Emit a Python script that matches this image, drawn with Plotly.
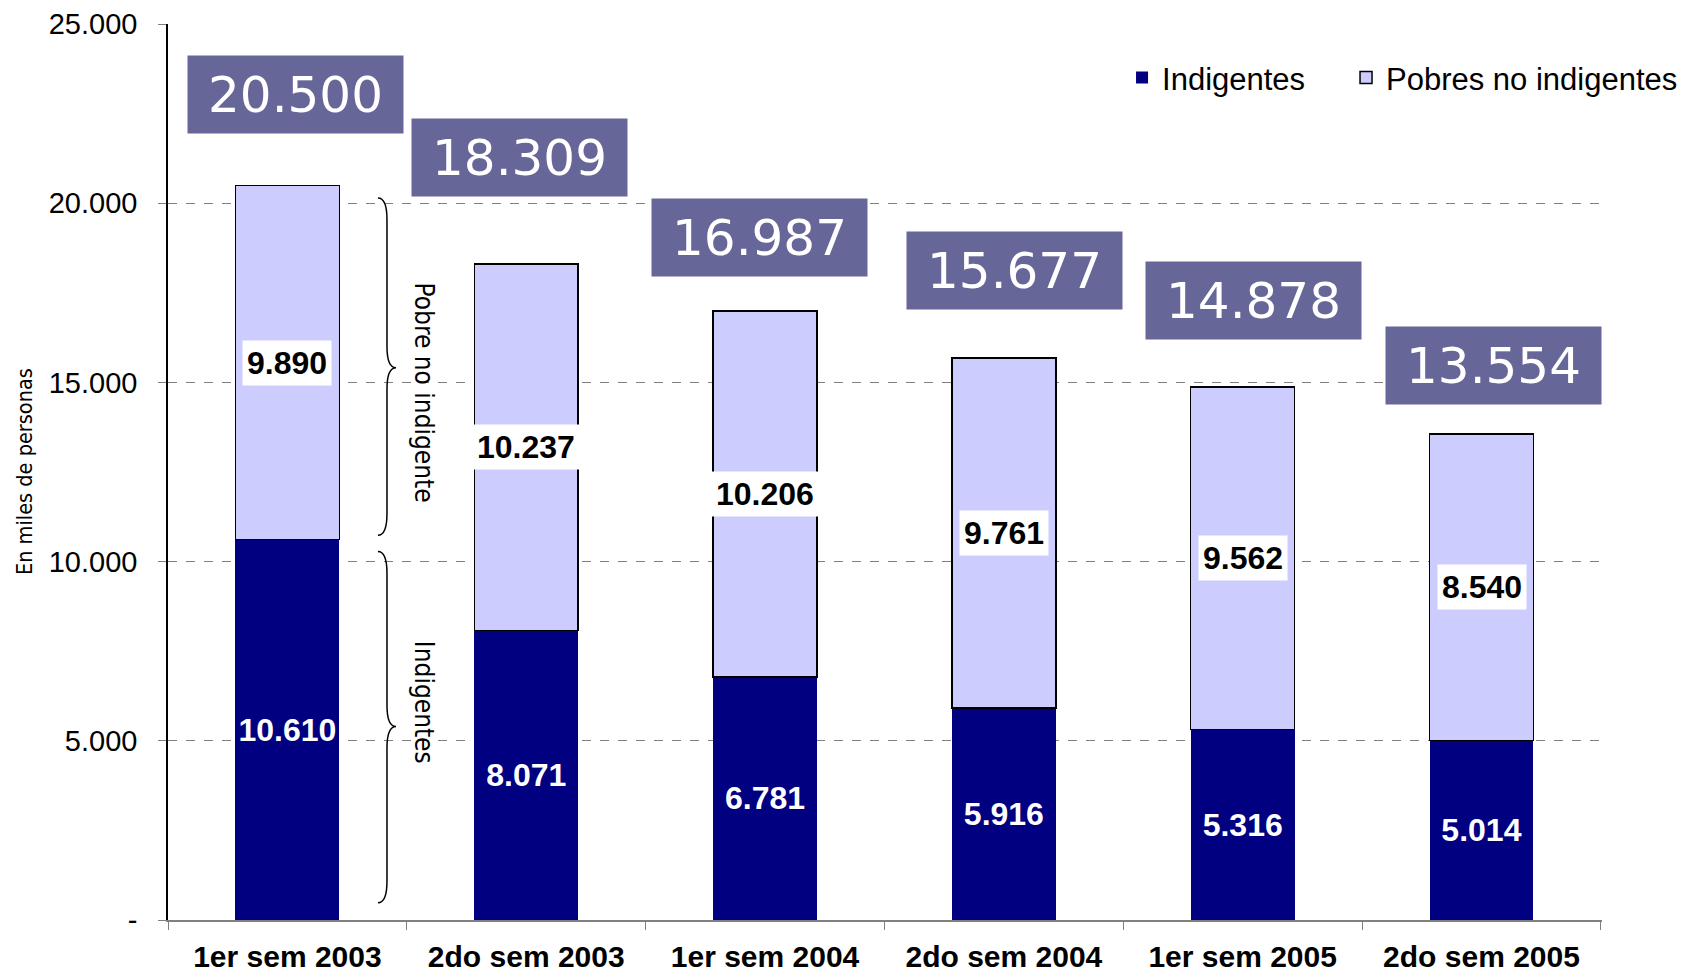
import plotly.graph_objects as go

categories = ["1er sem 2003", "2do sem 2003", "1er sem 2004",
              "2do sem 2004", "1er sem 2005", "2do sem 2005"]
indigentes = [10610, 8071, 6781, 5916, 5316, 5014]
pobres_no_indigentes = [9890, 10237, 10206, 9761, 9562, 8540]
totales = [20500, 18309, 16987, 15677, 14878, 13554]
y_tickvals = [0, 5000, 10000, 15000, 20000, 25000]
y_ticktext = ["-", "5.000", "10.000", "15.000", "20.000", "25.000"]

# label box offsets in pixels (style only)
box_xshift = [8, -7, -6, 11, 11, 12]
box_yshift = [91, 106, 74, 88, 86, 69]


def fmt(v):
    return f"{v:,}".replace(",", ".")


DARK = "#000080"
LIGHT = "#CCCCFF"
BOX = "#666699"
NARROW = "Liberation Sans Narrow, Arial Narrow, DejaVu Sans Condensed, Liberation Sans, Arial, sans-serif"
ARIAL = "Liberation Sans, Arial, sans-serif"

fig = go.Figure()
fig.add_trace(go.Bar(
    x=categories, y=indigentes, name="Indigentes", legend="legend",
    marker=dict(color=DARK, line=dict(color=DARK, width=0)),
    text=[fmt(v) for v in indigentes], textposition="inside",
    insidetextanchor="middle", constraintext="none",
    textfont=dict(color="white", size=32, family=ARIAL, weight="bold"),
))
fig.add_trace(go.Bar(
    x=categories, y=pobres_no_indigentes, name="Pobres no indigentes", legend="legend2",
    marker=dict(color=LIGHT, line=dict(color="black", width=1.5)),
    textposition="none",
))

annotations = []
for i, c in enumerate(categories):
    mid = indigentes[i] + pobres_no_indigentes[i] / 2
    annotations.append(dict(
        x=c, y=mid, xref="x", yref="y", text=fmt(pobres_no_indigentes[i]),
        showarrow=False, bgcolor="white", borderpad=4,
        font=dict(color="black", size=32, family=ARIAL, weight="bold"),
    ))
    annotations.append(dict(
        x=c, y=totales[i], xref="x", yref="y", text=fmt(totales[i]),
        showarrow=False, bgcolor=BOX, width=215, height=77, borderpad=0,
        xshift=box_xshift[i], yshift=box_yshift[i], xanchor="center", yanchor="middle",
        font=dict(color="white", size=50, family="DejaVu Sans, Verdana, sans-serif"),
    ))

annotations.append(dict(
    x=0.1785, y=14717, xref="paper", yref="y", text="Pobre no indigente",
    textangle=90, showarrow=False, xanchor="center", yanchor="middle",
    font=dict(size=26, family=NARROW, color="black"),
))
annotations.append(dict(
    x=0.1785, y=6061, xref="paper", yref="y", text="Indigentes",
    textangle=90, showarrow=False, xanchor="center", yanchor="middle",
    font=dict(size=26, family=NARROW, color="black"),
))
annotations.append(dict(
    x=-0.1004, y=0.5, xref="paper", yref="paper", text="En miles de personas",
    textangle=-90, showarrow=False, xanchor="center", yanchor="middle",
    font=dict(size=21.5, family=NARROW, color="black"),
))


def brace(x0, x1, x2, ytop, ymid, ybot, d):
    return (f"M {x0},{ytop} Q {x1},{ytop} {x1},{ytop - d} "
            f"L {x1},{ymid + d} Q {x1},{ymid} {x2},{ymid} "
            f"Q {x1},{ymid} {x1},{ymid - d} "
            f"L {x1},{ybot + d} Q {x1},{ybot} {x0},{ybot}")


shapes = [
    dict(type="path", xref="paper", yref="y",
         path=brace(0.1464, 0.1527, 0.159, 20145, 15410, 10736, 600),
         line=dict(color="black", width=1.5)),
    dict(type="path", xref="paper", yref="y",
         path=brace(0.1464, 0.1527, 0.159, 10284, 5398, 483, 600),
         line=dict(color="black", width=1.5)),
]

legend_common = dict(orientation="h", xanchor="left", yanchor="middle",
                     font=dict(size=31, family=ARIAL, color="black"),
                     bgcolor="rgba(0,0,0,0)")

fig.update_layout(
    width=1695, height=976,
    margin=dict(l=168, r=93, t=24, b=56, autoexpand=False),
    paper_bgcolor="white", plot_bgcolor="white",
    barmode="stack", bargap=0.565,
    font=dict(family=ARIAL, color="black"),
    showlegend=True,
    legend=dict(x=0.6653, y=0.94, **legend_common),
    legend2=dict(x=0.8215, y=0.94, **legend_common),
    annotations=annotations,
    shapes=shapes,
)
fig.update_yaxes(
    range=[0, 25000], tickvals=y_tickvals, ticktext=y_ticktext,
    showgrid=True, gridcolor="#808080", griddash="dash", gridwidth=1,
    showline=True, linecolor="black", linewidth=1.5,
    ticks="outside", ticklen=8, tickcolor="#808080",
    ticklabelstandoff=15,
    tickfont=dict(size=29, family=ARIAL, color="black"),
    zeroline=False,
    automargin=False,
)
fig.update_xaxes(
    showline=True, linecolor="#808080", linewidth=1.5,
    ticks="outside", ticklen=8, tickcolor="#808080", tickson="boundaries",
    tickfont=dict(size=30, family=ARIAL, color="black", weight="bold"),
    ticklabelstandoff=9,
    automargin=False,
)

fig.write_html("out.html", config={"displayModeBar": False},
               post_script="document.body.style.margin='0';")
